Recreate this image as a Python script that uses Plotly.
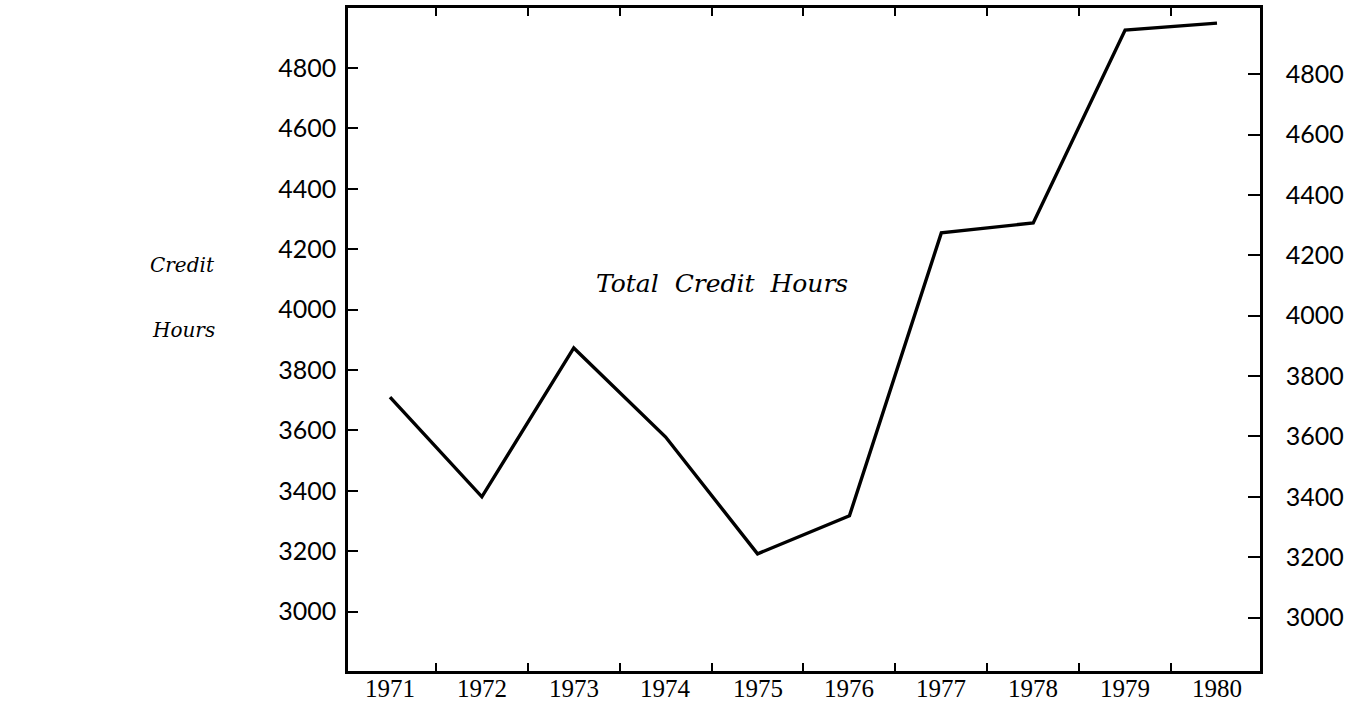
import plotly.graph_objects as go

# Annual total credit hours
years = [1971, 1972, 1973, 1974, 1975, 1976, 1977, 1978, 1979, 1980]
credit_hours = [3710, 3380, 3873, 3578, 3191, 3317, 4254, 4287, 4926, 4949]

year_labels = [str(y) for y in years]
y_ticks = [3000, 3200, 3400, 3600, 3800, 4000, 4200, 4400, 4600, 4800]
y_range = [2803, 4999]
y2_offset = 20

tick_font = dict(family="Lato, 'Noto Sans', sans-serif", size=25, color="black")
year_font = dict(family="'Liberation Serif', serif", size=25, color="black")
label_font = dict(family="'DejaVu Serif', serif", size=20, color="black")

fig = go.Figure()
fig.add_trace(go.Scatter(
    x=years, y=credit_hours, mode="lines",
    line=dict(color="black", width=3.4),
    showlegend=False, hoverinfo="skip",
))
# invisible trace to activate the right-hand axis
fig.add_trace(go.Scatter(
    x=[years[0]], y=[credit_hours[0]], yaxis="y2", mode="markers",
    marker=dict(opacity=0), showlegend=False, hoverinfo="skip",
))

# year labels anchored to the bottom edge of the page, under the axis
year_annotations = [
    dict(text=lab, x=yr, y=-0.0498, xref="x", yref="paper", yanchor="bottom",
         showarrow=False, font=year_font)
    for yr, lab in zip(years, year_labels)
]

fig.update_layout(
    width=1368, height=704,
    margin=dict(l=348, r=108, t=8, b=33),
    paper_bgcolor="white", plot_bgcolor="white",
    xaxis=dict(
        range=[1970.543, 1980.468], automargin=False,
        tickmode="array", tickvals=years, showticklabels=False,
        ticks="", ticklen=0,
        showgrid=False, zeroline=False,
        showline=True, linecolor="black", linewidth=2.5, mirror="ticks",
        minor=dict(ticks="inside", tickmode="array",
                   tickvals=[y + 0.5 for y in years[:-1]],
                   ticklen=8, tickwidth=1.5, tickcolor="black", showgrid=False),
    ),
    yaxis=dict(
        range=y_range, tickmode="array", tickvals=y_ticks, automargin=False,
        ticks="inside", ticklen=10, tickwidth=2, tickcolor="black",
        tickfont=tick_font, ticklabelstandoff=4,
        showgrid=False, zeroline=False,
        showline=True, linecolor="black", linewidth=2.5,
    ),
    yaxis2=dict(
        range=[y_range[0] + y2_offset, y_range[1] + y2_offset],
        overlaying="y", side="right", automargin=False,
        tickmode="array", tickvals=y_ticks,
        ticks="inside", ticklen=12, tickwidth=2, tickcolor="black",
        tickfont=tick_font, ticklabelstandoff=18,
        showgrid=False, zeroline=False,
        showline=True, linecolor="black", linewidth=2.5,
    ),
    annotations=year_annotations + [
        dict(text="<i>Total  Credit  Hours</i>", x=1974.61, y=4088,
             xref="x", yref="y", showarrow=False,
             font=dict(family="'DejaVu Serif', serif", size=25, color="black")),
        dict(text="<i>Credit</i>", x=-0.219, y=0.612, xref="paper", yref="paper",
             xanchor="left", showarrow=False, font=label_font),
        dict(text="<i>Hours</i>", x=-0.217, y=0.514, xref="paper", yref="paper",
             xanchor="left", showarrow=False, font=label_font),
    ],
)

fig.write_html("out.html")
